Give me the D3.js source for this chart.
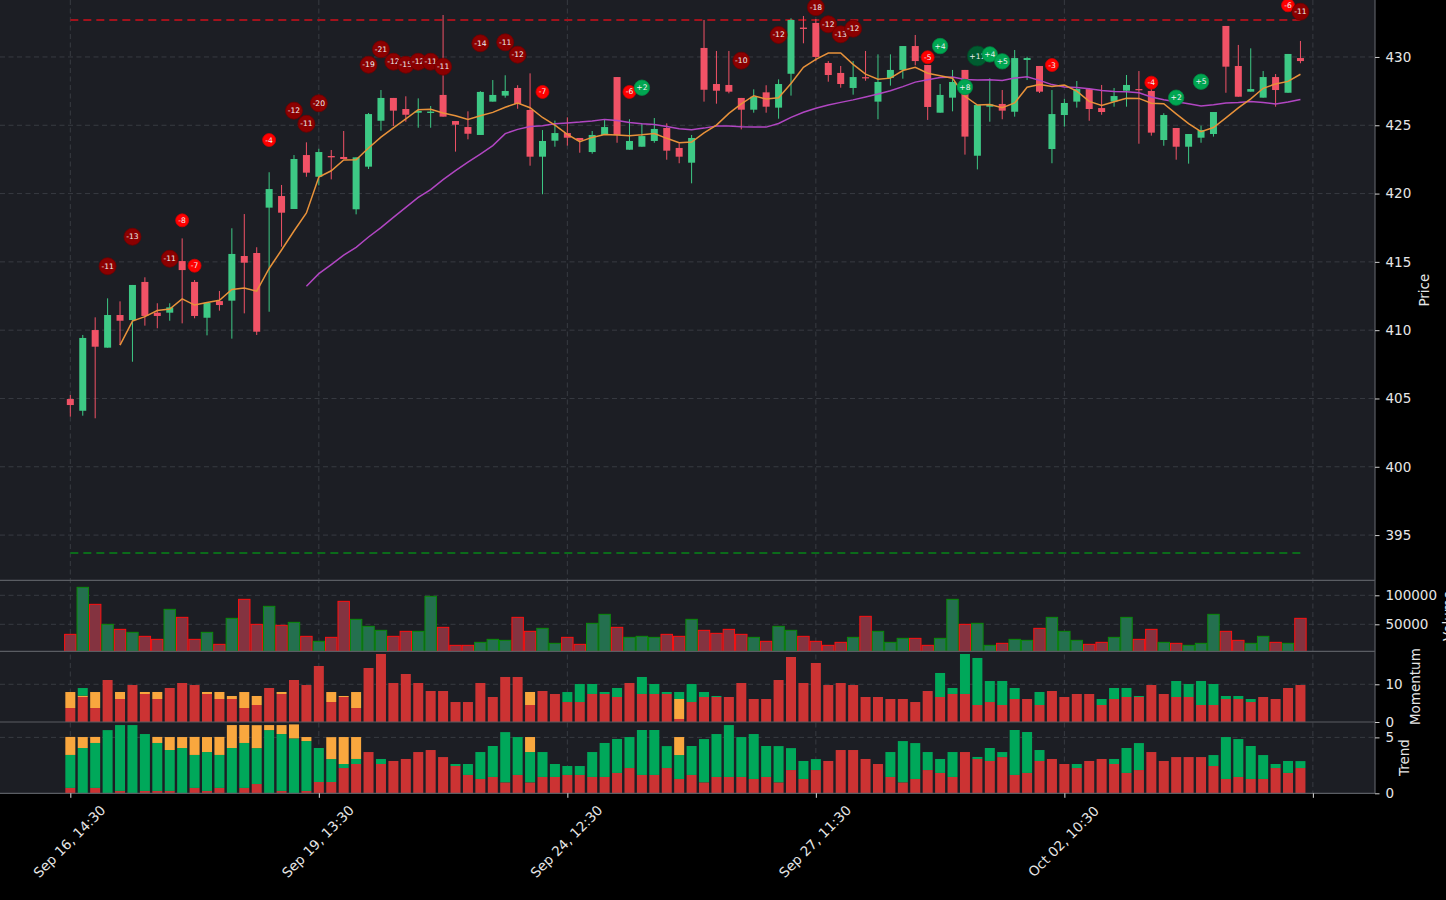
<!DOCTYPE html>
<html><head><meta charset="utf-8">
<script src="https://cdn.jsdelivr.net/npm/d3@7"></script>
<style>html,body{margin:0;padding:0;background:#000;}svg{display:block;}</style>
</head><body>
<svg id="c" width="1446" height="900"></svg>
<script>
// ---------------- DATA ----------------
const opens = [404.96,404.10,410.01,408.72,411.11,410.74,413.53,411.28,411.28,415.06,413.53,410.91,412.13,412.16,415.43,415.65,418.97,419.82,418.87,422.82,
421.23,422.75,422.68,418.85,421.97,425.33,427.00,426.19,425.92,425.90,427.22,425.31,424.87,424.29,426.73,427.17,427.73,426.12,422.70,423.87,
424.43,424.07,423.04,424.29,428.53,423.21,423.43,423.85,424.80,423.34,422.26,430.66,428.02,427.95,427.00,426.14,427.41,426.29,428.77,432.15,
432.49,429.56,428.83,427.73,428.52,426.73,428.46,429.05,430.80,429.41,425.92,427.02,429.05,422.77,426.36,426.56,425.99,429.78,429.34,423.26,
425.75,426.73,427.65,426.26,426.73,427.53,427.65,427.51,423.92,424.80,423.43,424.09,424.36,432.27,429.34,427.46,427.02,428.53,427.38,429.92];
const highs = [405.25,409.65,410.94,412.33,412.11,413.31,413.87,411.97,411.97,416.72,413.67,412.01,412.87,417.46,418.50,416.07,421.56,420.63,422.82,423.75,
423.28,423.19,424.58,422.65,425.90,427.58,427.00,427.12,426.97,426.41,433.07,425.31,426.02,427.50,428.31,428.66,427.93,428.80,424.65,425.34,
425.58,424.07,424.58,425.44,428.53,425.44,425.14,425.53,425.14,423.68,424.29,432.71,430.44,430.44,427.00,427.63,427.93,428.36,432.83,433.00,
432.78,429.70,429.34,429.70,430.44,430.19,430.19,430.80,431.61,429.41,428.02,429.05,429.05,426.48,428.44,427.58,430.51,430.02,429.34,427.58,
426.94,428.24,427.73,427.95,427.73,428.68,428.97,427.71,425.88,424.80,424.36,424.97,425.97,432.27,430.88,430.63,428.97,428.75,430.22,431.17];
const lows = [403.67,403.74,403.55,408.72,408.91,407.69,410.33,410.14,410.69,410.50,410.87,409.62,411.43,409.38,411.23,409.65,411.35,416.11,418.87,421.23,
420.60,421.04,422.53,418.48,421.80,424.60,424.95,425.26,424.82,424.82,425.63,423.07,423.97,424.29,426.73,427.02,426.21,422.04,419.95,423.43,
423.51,422.99,422.92,424.29,423.72,423.21,423.43,423.72,422.48,422.22,420.75,426.73,426.58,427.34,424.70,425.92,425.92,425.48,427.17,431.00,
429.70,428.19,427.75,427.24,428.26,425.44,427.90,428.41,429.39,425.39,425.92,426.02,422.85,421.77,425.26,425.44,425.63,428.31,427.36,422.22,
424.90,426.29,425.33,425.77,426.36,426.36,423.65,424.24,423.50,422.48,422.19,423.72,424.17,427.38,427.09,427.46,427.02,426.36,427.38,429.54];
const closes = [404.52,409.43,408.79,411.11,410.69,413.31,411.04,411.04,411.67,414.40,411.04,412.01,411.84,415.58,414.94,409.89,420.33,418.60,422.53,421.53,
423.04,422.65,422.53,422.65,425.82,427.00,426.07,425.77,426.05,426.00,425.63,425.04,424.38,427.44,427.22,427.51,426.56,422.70,423.85,424.43,
424.09,423.90,424.29,424.87,424.29,423.85,424.21,424.73,423.14,422.70,424.07,427.60,427.53,427.46,426.14,427.09,426.36,428.02,432.71,432.05,
430.00,428.68,428.02,428.53,428.48,428.17,429.05,430.80,429.70,426.34,427.22,428.17,424.17,426.48,426.53,426.07,429.92,429.92,427.46,425.82,
426.63,427.65,426.19,425.97,427.14,427.95,427.58,424.46,425.75,423.43,424.36,424.65,425.97,429.29,427.09,427.65,428.53,427.58,430.22,429.70];
const volumes = [32700,113740,84430,49940,41320,36150,29260,24080,75800,62010,24080,36150,15460,60290,93050,49940,80980,48220,53390,29260,
20640,27530,89600,58570,46500,39600,29260,37880,37880,98220,44770,13740,13740,18910,24080,22360,62010,37880,43050,17190,
27530,15460,51670,67190,44770,27530,29260,27530,32700,29260,58570,39600,34430,41320,32700,27530,20640,46500,39600,29260,
20640,13740,18910,27530,63740,37880,18910,25810,25810,13740,25810,93050,49940,51670,13740,17190,24080,22360,43050,62010,
37880,22360,15460,18910,27530,62010,24080,41320,18910,17190,13740,17190,67190,37880,22360,17190,29260,18910,17190,60290];
// Momentum panel: stacked segments (red bottom, orange, green top)
const momRed = [3.71,6.63,3.71,11.14,6.10,9.81,7.43,6.10,9.02,10.34,9.81,7.43,6.10,6.10,3.71,4.51,9.02,7.43,11.14,9.81,
14.85,5.30,6.63,3.71,14.32,18.04,10.34,12.73,10.34,8.22,8.22,5.30,5.30,10.34,6.63,11.94,11.94,4.51,8.22,7.43,
5.30,5.30,7.43,7.43,6.63,10.34,7.43,7.43,7.43,0.80,5.30,6.63,6.63,6.63,10.34,6.10,6.10,11.14,17.24,10.34,
15.65,9.81,10.34,9.81,6.63,6.63,6.10,6.10,5.30,8.22,6.63,7.43,7.43,4.51,5.30,4.51,6.10,6.10,4.51,8.22,
6.63,7.43,7.43,4.51,6.10,6.63,6.63,9.81,7.43,6.63,6.63,4.51,4.51,6.10,6.10,5.30,6.63,6.10,9.02,9.81];
const momOrange = [4.24,0.35,4.24,0,1.86,0,0.53,1.86,0,0,0,0.53,1.86,0.80,4.24,2.39,0,0.53,0,0,
0,2.65,0.27,4.24,0,0,0,0,0,0,0,0,0,0,0,0,0,3.45,0,0,
0,0,0,0,0,0,0,0,0,5.30,0,0,0,0,0,0,0,0,0,0,
0,0,0,0,0,0,0,0,0,0,0,0,0,0,0,0,0,0,0,0,
0,0,0,0,0,0,0,0,0,0,0,0,0,0,0,0,0,0,0,0];
const momGreen = [0,2.03,0,0,0,0,0,0,0,0,0,0,0,0,0,0,0,0,0,0,
0,0,0,0,0,0,0,0,0,0,0,0,0,0,0,0,0,0,0,0,
2.65,4.77,2.65,0.53,2.39,0,4.51,2.65,0.53,1.86,4.77,1.33,0.27,0,0,0,0,0,0,0,
0,0,0,0,0,0,0,0,0,0,6.37,1.59,10.61,12.47,5.57,6.37,2.92,0,3.45,0,
0,0,0,1.59,2.92,2.39,0.27,0,0,4.24,3.45,6.37,5.57,0.80,0.80,0.80,0,0,0,0];
// Trend panel: stacked segments (red bottom, green, orange top)
const trRed = [0.48,0,0.48,0,0.21,0,0.21,0.21,0.21,0,0.48,0.21,0.48,0,0.48,0.83,0,0.21,0,0.21,
1.01,1.01,2.26,2.62,3.69,2.62,2.89,3.07,3.69,3.87,3.24,2.44,1.64,1.28,1.46,0.98,1.64,0.98,1.46,1.46,
1.64,1.64,1.46,1.46,1.82,2.26,1.64,1.64,2.26,1.28,1.64,0.98,1.46,1.46,1.46,1.28,1.46,0.98,2.08,1.28,
2.08,2.89,3.87,3.87,3.07,2.62,1.46,0.98,1.28,2.08,1.82,1.46,3.69,3.07,2.89,3.24,1.64,1.82,2.89,3.07,
2.62,2.26,2.89,3.07,2.62,1.82,2.08,3.69,2.89,3.24,3.24,3.24,2.44,1.28,1.46,1.28,1.28,2.26,1.82,2.26];
const trGreen = [2.95,4.05,4.02,5.65,5.89,6.10,5.09,4.29,3.66,4.05,2.95,3.48,2.95,4.05,4.02,3.21,5.65,5.09,4.91,4.46,
3.04,2.05,0.36,0.45,0,0.45,0,0,0,0,0,0.18,0.98,2.41,2.77,4.49,3.39,2.71,2.23,1.16,
0.80,0.80,2.23,3.04,3.04,2.77,4.02,4.02,1.96,2.14,2.59,3.87,3.84,4.64,3.57,4.02,2.77,3.24,1.96,1.61,
0.98,0,0,0,0,0,2.23,3.69,3.21,1.61,1.25,2.23,0,0.18,1.16,0.45,4.02,3.66,0.98,0,
0,0.36,0,0,0.45,2.23,2.41,0,0,0,0,0,0.98,3.75,3.39,2.95,2.14,0.36,1.07,0.62];
const trOrange = [1.61,0.98,0.54,0,0,0,0,0.54,1.16,0.98,1.61,1.34,1.61,2.05,1.61,2.05,0.45,0.80,1.25,0.36,
0,1.96,2.41,1.96,0,0,0,0,0,0,0,0,0,0,0,0,0,1.34,0,0,
0,0,0,0,0,0,0,0,0,1.61,0,0,0,0,0,0,0,0,0,0,
0,0,0,0,0,0,0,0,0,0,0,0,0,0,0,0,0,0,0,0,
0,0,0,0,0,0,0,0,0,0,0,0,0,0,0,0,0,0,0,0];
// Signal markers above candles
const markerIdx   = [3,5,8,9,10,16,18,19,20,24,25,26,27,28,29,30,33,35,36,38,45,46,54,57,60,61,62,63,69,70,72,73,74,75,79,87,89,91,98,99];
const markerVal   = [-11,-13,-11,-8,-7,-4,-12,-11,-20,-19,-21,-12,-15,-12,-11,-11,-14,-11,-12,-7,-6,2,-10,-12,-18,-12,-13,-12,-5,4,8,11,4,5,-3,-4,2,5,-6,-11];
const markerPrice = [414.68,416.84,415.23,418.04,414.72,423.92,426.07,425.11,426.61,429.43,430.56,429.65,429.43,429.65,429.65,429.29,431.00,431.07,430.17,427.44,427.44,427.75,429.73,431.61,433.64,432.39,431.66,432.07,429.98,430.80,427.80,430.07,430.19,429.68,429.41,428.12,427.02,428.19,433.78,433.31];
const resistance = 432.7;
const support = 393.68;
const xTickIdx = [0,20,40,60,80,100];
const xTickLabels = ["Sep 16, 14:30","Sep 19, 13:30","Sep 24, 12:30","Sep 27, 11:30","Oct 02, 10:30",""];
const priceTicks = [395,400,405,410,415,420,425,430];
const volTicks = [50000,100000];
const momTicks = [0,10];
const trendTicks = [0,5];

// ---------------- LAYOUT ----------------
const svg = d3.select("#c");
const L = 0, R = 1375;
const P = {top:0, bot:580.3}, V = {top:580.3, bot:651.3}, M = {top:651.3, bot:722}, T = {top:722, bot:793.3};
const font = "DejaVu Sans, sans-serif";
const panelBg = "#1c1e24", gridC = "#3b3e45", spineC = "#5a5d63", textC = "#e6e6e6";
const upC = "#3dc985", dnC = "#f05266";
const segRed = "#cc3333", segOrange = "#f9a73e", segGreen = "#00a85a";

const n = closes.length;
const idx = d3.range(n);
const x = d3.scaleLinear().domain([-5.66, 105.0]).range([L, R]);
const yP = d3.scaleLinear().domain([391.69, 434.17]).range([P.bot, P.top]);
const yV = d3.scaleLinear().domain([3448, 125862]).range([V.bot, V.top]);
const yM = d3.scaleLinear().domain([0, 18.75]).range([M.bot, M.top]);
const yT = d3.scaleLinear().domain([0, 6.375]).range([T.bot, T.top]);

svg.append("rect").attr("width",1446).attr("height",900).attr("fill","#000");
[P,V,M,T].forEach(p => svg.append("rect").attr("x",L).attr("y",p.top).attr("width",R-L).attr("height",p.bot-p.top).attr("fill",panelBg));

// grids
const grid = svg.append("g").attr("stroke",gridC).attr("stroke-width",0.9).attr("stroke-dasharray","5,3.5");
priceTicks.forEach(t => grid.append("line").attr("x1",L).attr("x2",R).attr("y1",yP(t)).attr("y2",yP(t)));
volTicks.forEach(t => grid.append("line").attr("x1",L).attr("x2",R).attr("y1",yV(t)).attr("y2",yV(t)));
grid.append("line").attr("x1",L).attr("x2",R).attr("y1",yM(10)).attr("y2",yM(10));
grid.append("line").attr("x1",L).attr("x2",R).attr("y1",yT(5)).attr("y2",yT(5));
xTickIdx.forEach(i => grid.append("line").attr("x1",x(i)).attr("x2",x(i)).attr("y1",P.top).attr("y2",T.bot));

// support / resistance
svg.append("line").attr("x1",x(0)).attr("x2",x(n-1)).attr("y1",yP(resistance)).attr("y2",yP(resistance))
  .attr("stroke","#a3121c").attr("stroke-width",2).attr("stroke-dasharray","8,5");
svg.append("line").attr("x1",x(0)).attr("x2",x(n-1)).attr("y1",yP(support)).attr("y2",yP(support))
  .attr("stroke","#0b6b1a").attr("stroke-width",2).attr("stroke-dasharray","8,5");

// candles
const cg = svg.append("g");
idx.forEach(i => {
  const up = closes[i] >= opens[i];
  const c = up ? upC : dnC;
  cg.append("line").attr("x1",x(i)).attr("x2",x(i)).attr("y1",yP(highs[i])).attr("y2",yP(lows[i])).attr("stroke",c).attr("stroke-width",1);
  const yt = yP(Math.max(opens[i],closes[i])), yb = yP(Math.min(opens[i],closes[i]));
  cg.append("rect").attr("x",x(i)-3.5).attr("y",yt).attr("width",7).attr("height",Math.max(yb-yt,1.2)).attr("fill",c);
});

// moving averages (rolling means of the closes above)
function sma(arr, k){ return arr.map((v,i)=> i<k-1 ? null : d3.mean(arr.slice(i-k+1,i+1))); }
const ma5 = sma(closes,5), ma20 = sma(closes,20);
const line = d3.line().defined(d=>d[1]!==null).x(d=>x(d[0])).y(d=>yP(d[1]));
svg.append("path").attr("d",line(ma20.map((v,i)=>[i,v]))).attr("fill","none").attr("stroke","#b146c2").attr("stroke-width",1.5);
svg.append("path").attr("d",line(ma5.map((v,i)=>[i,v]))).attr("fill","none").attr("stroke","#e8923a").attr("stroke-width",1.5);

// markers
const mg = svg.append("g");
markerIdx.forEach((i,k) => {
  const v = markerVal[k];
  let fill, edge, r;
  if (v <= -10) { fill = "#8b0000"; edge = "#6e0000"; r = 8.5; }
  else if (v < 0) { fill = "#ff0000"; edge = "#d40000"; r = 6.5; }
  else if (v >= 10) { fill = "#005c30"; edge = "#004a26"; r = 10; }
  else { fill = "#00a651"; edge = "#008a43"; r = 7.7; }
  mg.append("circle").attr("cx",x(i)).attr("cy",yP(markerPrice[k])).attr("r",r).attr("fill",fill).attr("stroke",edge).attr("stroke-width",0.8);
  mg.append("text").attr("x",x(i)).attr("y",yP(markerPrice[k])).attr("text-anchor","middle").attr("dominant-baseline","central")
    .attr("font-family",font).attr("font-size",7.6).attr("fill","#eeeeee").text((v>0?"+":"")+v);
});

// volume
const vg = svg.append("g");
idx.forEach(i => {
  const up = closes[i] >= opens[i];
  vg.append("rect").attr("x",x(i)-5.7).attr("y",yV(volumes[i])).attr("width",11.4).attr("height",V.bot-yV(volumes[i]))
    .attr("fill", up ? "#24704f" : "#843340").attr("stroke", up ? "#0a8a0a" : "#ff1010").attr("stroke-width",1);
});

// momentum stacked
const mog = svg.append("g");
idx.forEach(i => {
  let base = 0;
  [[momRed[i],segRed],[momOrange[i],segOrange],[momGreen[i],segGreen]].forEach(([h,c]) => {
    if (h>0){ mog.append("rect").attr("x",x(i)-5).attr("width",10).attr("y",yM(base+h)).attr("height",yM(base)-yM(base+h)).attr("fill",c); }
    base += h;
  });
});
// trend stacked
const tg = svg.append("g");
idx.forEach(i => {
  let base = 0;
  [[trRed[i],segRed],[trGreen[i],segGreen],[trOrange[i],segOrange]].forEach(([h,c]) => {
    if (h>0){ tg.append("rect").attr("x",x(i)-5).attr("width",10).attr("y",yT(base+h)).attr("height",yT(base)-yT(base+h)).attr("fill",c); }
    base += h;
  });
});

// spines / separators
const sp = svg.append("g").attr("stroke",spineC).attr("stroke-width",1.2);
[V.top, M.top, T.top, T.bot].forEach(yy => sp.append("line").attr("x1",L).attr("x2",R).attr("y1",yy).attr("y2",yy));
sp.append("line").attr("x1",R).attr("x2",R).attr("y1",0).attr("y2",T.bot);

// right axes
function rightAxis(scale, ticks, fmt){
  const g = svg.append("g").attr("transform",`translate(${R},0)`);
  g.call(d3.axisRight(scale).tickValues(ticks).tickSize(4.5).tickPadding(6).tickFormat(fmt));
  g.select(".domain").remove();
  g.selectAll("line").attr("stroke","#cfcfcf");
  g.selectAll("text").attr("fill",textC).attr("font-family",font).attr("font-size",13.5);
}
rightAxis(yP, priceTicks, d3.format("d"));
rightAxis(yV, volTicks, d3.format("d"));
rightAxis(yM, momTicks, d3.format("d"));
rightAxis(yT, trendTicks, d3.format("d"));

// axis titles
function vtitle(txt, bx, cy){
  svg.append("text").attr("transform",`translate(${bx},${cy}) rotate(-90)`).attr("text-anchor","middle")
    .attr("font-family",font).attr("font-size",13.5).attr("fill",textC).text(txt);
}
vtitle("Price", 1429, (P.top+P.bot)/2);
vtitle("Volume", 1453, (V.top+V.bot)/2);
vtitle("Momentum", 1420, (M.top+M.bot)/2);
vtitle("Trend", 1409, (T.top+T.bot)/2);

// bottom x axis
const xg = svg.append("g").attr("transform",`translate(0,${T.bot})`);
xg.call(d3.axisBottom(x).tickValues(xTickIdx).tickSize(4.5).tickFormat(""));
xg.select(".domain").remove();
xg.selectAll("line").attr("stroke","#e0e0e0");
xTickIdx.forEach((t,k) => {
  if (!xTickLabels[k]) return;
  svg.append("text").attr("transform",`translate(${x(t)-1},${T.bot+48}) rotate(-45)`).attr("text-anchor","middle")
    .attr("dominant-baseline","central").attr("font-family",font).attr("font-size",13.6).attr("fill",textC).text(xTickLabels[k]);
});
</script>
</body></html>
